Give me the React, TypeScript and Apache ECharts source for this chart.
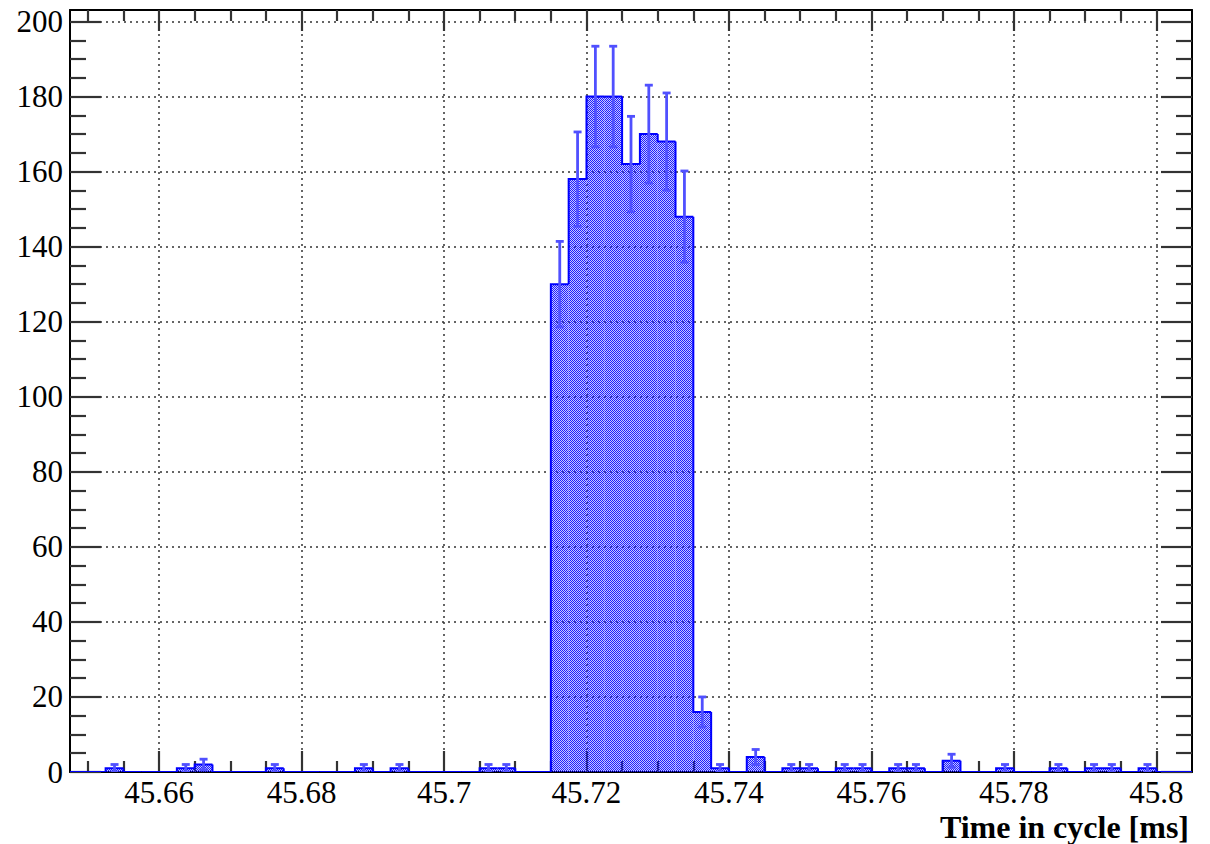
import React, { useEffect, useRef } from 'react';
import * as echarts from 'echarts';

// Histogram binning (ms)
const binLow = 45.6475;
const binWidth = 0.0025;
// Counts per bin (63 bins, 45.6475 .. 45.805 ms)
const counts = [
  0, 0, 1, 0, 0, 0, 1, 2, 0, 0,
  0, 1, 0, 0, 0, 0, 1, 0, 1, 0,
  0, 0, 0, 1, 1, 0, 0, 130, 158, 180,
  180, 162, 170, 168, 148, 16, 1, 0, 4, 0,
  1, 1, 0, 1, 1, 0, 1, 1, 0, 3,
  0, 0, 1, 0, 0, 1, 0, 1, 1, 0,
  1, 0, 0,
];

const xMin = 45.6475;
const xMax = 45.805;
const yMin = 0;
const yMax = 203.07;

const xMajorTicks = [45.66, 45.68, 45.7, 45.72, 45.74, 45.76, 45.78, 45.8];
const xMajorLabels = ['45.66', '45.68', '45.7', '45.72', '45.74', '45.76', '45.78', '45.8'];
const xMinorTicks = [
  45.65, 45.655, 45.665, 45.67, 45.675, 45.685, 45.69, 45.695, 45.705, 45.71,
  45.715, 45.725, 45.73, 45.735, 45.745, 45.75, 45.755, 45.765, 45.77, 45.775,
  45.785, 45.79, 45.795,
];
const yMajorTicks = [0, 20, 40, 60, 80, 100, 120, 140, 160, 180, 200];
const yMajorLabels = ['0', '20', '40', '60', '80', '100', '120', '140', '160', '180', '200'];
const yMinorTicks = [
  5, 10, 15, 25, 30, 35, 45, 50, 55, 65, 70, 75, 85, 90, 95,
  105, 110, 115, 125, 130, 135, 145, 150, 155, 165, 170, 175, 185, 190, 195,
];

const xTitle = 'Time in cycle [ms]';

const FONT = '"Liberation Serif", "Times New Roman", serif';
const LABEL_SIZE = 31;
const TICK_COLOR = '#333';
const GRID_STYLE = { type: [2, 4] as any, color: '#333', width: 1.5 };

function makePattern(): any {
  const c = document.createElement('canvas');
  c.width = 2;
  c.height = 2;
  const ctx = c.getContext('2d')!;
  ctx.clearRect(0, 0, 2, 2);
  ctx.fillStyle = 'rgba(30,30,255,1)';
  ctx.fillRect(0, 0, 1, 1);
  ctx.fillRect(1, 1, 1, 1);
  ctx.fillStyle = 'rgba(0,0,255,0.22)';
  ctx.fillRect(1, 0, 1, 1);
  ctx.fillRect(0, 1, 1, 1);
  return { image: c, repeat: 'repeat' };
}

export default function App() {
  const ref = useRef<HTMLDivElement>(null);

  useEffect(() => {
    if (!ref.current) return;
    const chart = echarts.init(ref.current, undefined, { renderer: 'svg' });
    const pattern = makePattern();

    const histData = counts.map((c, i) => [binLow + (i + 0.5) * binWidth, c]);

    const xAxisBase = { type: 'value' as const, min: xMin, max: xMax, gridIndex: 0 };
    const yAxisBase = { type: 'value' as const, min: yMin, max: yMax, gridIndex: 0 };
    const tickStyle = { color: TICK_COLOR, width: 2.2 };

    const option: any = {
      animation: false,
      grid: { left: 70, right: 18, top: 10, bottom: 72, containLabel: false },
      xAxis: [
        {
          ...xAxisBase,
          position: 'bottom',
          axisLine: { show: true, onZero: false, lineStyle: { color: '#000', width: 2 } },
          axisTick: { show: true, inside: true, length: 21, customValues: xMajorTicks, lineStyle: tickStyle },
          axisLabel: {
            show: true,
            customValues: xMajorTicks,
            formatter: (v: number) => {
              const k = xMajorTicks.findIndex((t) => Math.abs(t - v) < 1e-6);
              return k >= 0 ? xMajorLabels[k] : '';
            },
            margin: 5,
            fontFamily: FONT,
            fontSize: LABEL_SIZE,
            lineHeight: 30,
            color: '#000',
          },
          splitLine: { show: true, lineStyle: GRID_STYLE },
        },
        {
          ...xAxisBase,
          position: 'bottom',
          axisLine: { show: false, onZero: false },
          axisTick: { show: true, inside: true, length: 11, customValues: xMinorTicks, lineStyle: tickStyle },
          axisLabel: { show: false },
          splitLine: { show: false },
        },
        {
          ...xAxisBase,
          position: 'top',
          axisLine: { show: true, onZero: false, lineStyle: { color: '#000', width: 2 } },
          axisTick: { show: true, inside: true, length: 21, customValues: xMajorTicks, lineStyle: tickStyle },
          axisLabel: { show: false },
          splitLine: { show: false },
        },
        {
          ...xAxisBase,
          position: 'top',
          axisLine: { show: false, onZero: false },
          axisTick: { show: true, inside: true, length: 11, customValues: xMinorTicks, lineStyle: tickStyle },
          axisLabel: { show: false },
          splitLine: { show: false },
        },
      ],
      yAxis: [
        {
          ...yAxisBase,
          position: 'left',
          axisLine: { show: true, onZero: false, lineStyle: { color: '#000', width: 2 } },
          axisTick: { show: true, inside: true, length: 31, customValues: yMajorTicks, lineStyle: tickStyle },
          axisLabel: {
            show: true,
            customValues: yMajorTicks,
            formatter: (v: number) => {
              const k = yMajorTicks.findIndex((t) => Math.abs(t - v) < 1e-6);
              return k >= 0 ? yMajorLabels[k] : '';
            },
            margin: 7,
            fontFamily: FONT,
            fontSize: LABEL_SIZE,
            color: '#000',
          },
          splitLine: { show: true, lineStyle: GRID_STYLE },
        },
        {
          ...yAxisBase,
          position: 'left',
          axisLine: { show: false, onZero: false },
          axisTick: { show: true, inside: true, length: 16, customValues: yMinorTicks, lineStyle: tickStyle },
          axisLabel: { show: false },
          splitLine: { show: false },
        },
        {
          ...yAxisBase,
          position: 'right',
          axisLine: { show: true, onZero: false, lineStyle: { color: '#000', width: 2 } },
          axisTick: { show: true, inside: true, length: 31, customValues: yMajorTicks, lineStyle: tickStyle },
          axisLabel: { show: false },
          splitLine: { show: false },
        },
        {
          ...yAxisBase,
          position: 'right',
          axisLine: { show: false, onZero: false },
          axisTick: { show: true, inside: true, length: 16, customValues: yMinorTicks, lineStyle: tickStyle },
          axisLabel: { show: false },
          splitLine: { show: false },
        },
      ],
      graphic: [
        {
          type: 'text',
          right: 21,
          top: 811,
          style: { text: xTitle, font: `bold 32px ${FONT}`, fill: '#000', lineHeight: 30 },
        },
      ],
      series: [
        {
          type: 'custom',
          xAxisIndex: 0,
          yAxisIndex: 0,
          clip: true,
          data: histData,
          encode: { x: 0, y: 1 },
          renderItem: (params: any, api: any) => {
            const i = params.dataIndex;
            const xc = api.value(0) as number;
            const c = api.value(1) as number;
            const prev = i > 0 ? counts[i - 1] : 0;
            const pLT = api.coord([xc - binWidth / 2, c]);
            const pRB = api.coord([xc + binWidth / 2, 0]);
            const pPrev = api.coord([xc - binWidth / 2, prev]);
            const children: any[] = [];
            if (c > 0) {
              children.push({
                type: 'rect',
                shape: { x: pLT[0], y: pLT[1], width: pRB[0] - pLT[0], height: pRB[1] - pLT[1] },
                style: { fill: pattern },
              });
            }
            children.push({
              type: 'polyline',
              shape: { points: [pPrev, pLT, [pRB[0], pLT[1]]] },
              style: { stroke: '#0000ff', lineWidth: 2, fill: null },
            });
            if (c > 0) {
              const e = Math.sqrt(c);
              const top = api.coord([xc, c + e]);
              const bot = api.coord([xc, Math.max(0, c - e)]);
              const es = { stroke: '#5050ff', lineWidth: 2.8 };
              children.push({ type: 'line', shape: { x1: top[0], y1: top[1], x2: bot[0], y2: bot[1] }, style: es });
              children.push({ type: 'line', shape: { x1: top[0] - 4, y1: top[1], x2: top[0] + 4, y2: top[1] }, style: es });
              children.push({ type: 'line', shape: { x1: bot[0] - 4, y1: bot[1], x2: bot[0] + 4, y2: bot[1] }, style: es });
            }
            return { type: 'group', children };
          },
        },
      ],
    };

    chart.setOption(option);
    return () => {
      chart.dispose();
    };
  }, []);

  return (
    <div
      ref={ref}
      style={{ position: 'absolute', left: 0, top: 0, width: 1210, height: 844, background: '#fff' }}
    />
  );
}
